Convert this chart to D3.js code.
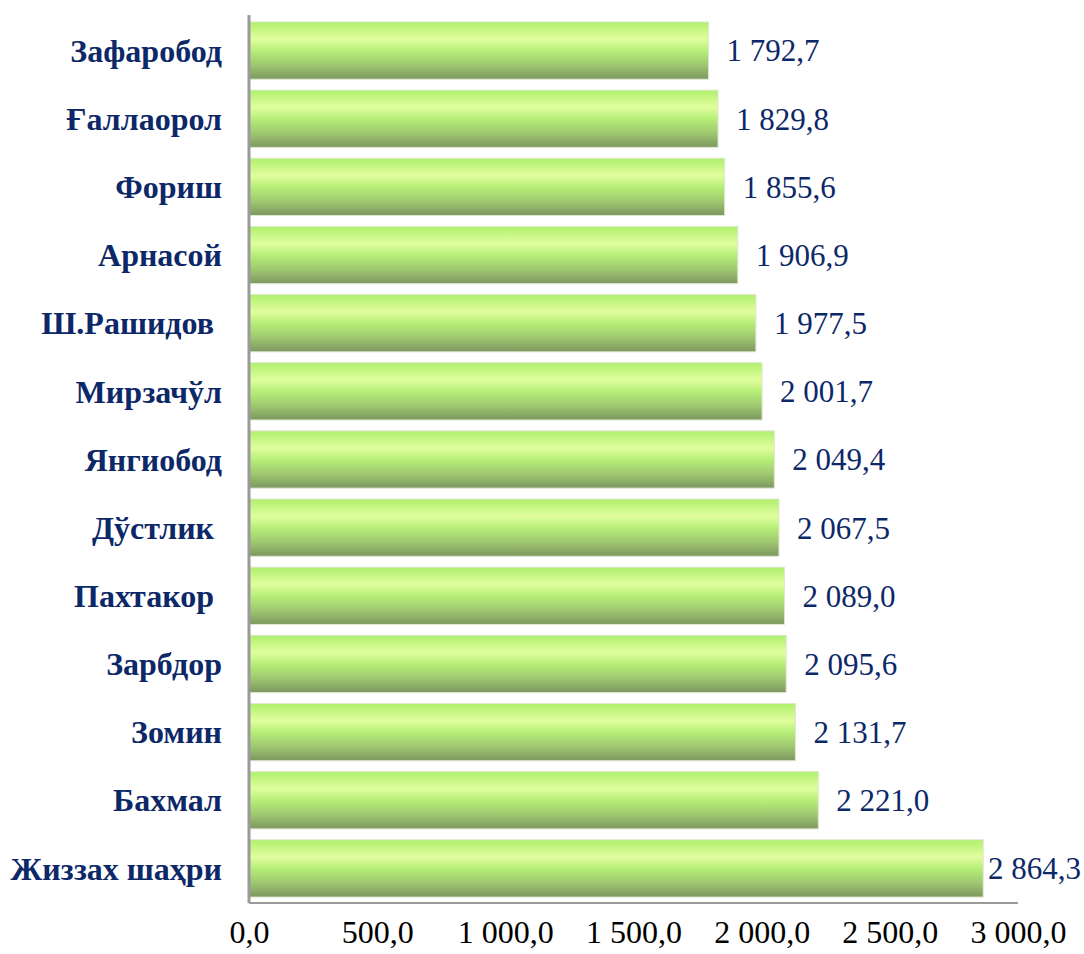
<!DOCTYPE html>
<html><head><meta charset="utf-8">
<script src="https://cdn.jsdelivr.net/npm/d3@7"></script>
<style>body{margin:0;background:#fff}svg{display:block}</style>
</head><body>
<script>
const categories = ["Зафаробод","Ғаллаорол","Фориш","Арнасой","Ш.Рашидов\u00a0","Мирзачўл","Янгиобод","Дўстлик\u00a0","Пахтакор\u00a0","Зарбдор","Зомин","Бахмал","Жиззах шаҳри"];
const values = [1792.7,1829.8,1855.6,1906.9,1977.5,2001.7,2049.4,2067.5,2089.0,2095.6,2131.7,2221.0,2864.3];
const tickValues = [0,500,1000,1500,2000,2500,3000];

const W=1084,H=954;
const svg=d3.select("body").append("svg").attr("width",W).attr("height",H);
const defs=svg.append("defs");
const g=defs.append("linearGradient").attr("id","bg").attr("x1",0).attr("y1",0).attr("x2",0).attr("y2",1);
[[0,"#aef06c"],[0.3,"#e2fd9f"],[0.5,"#b6ef78"],[0.75,"#9fc870"],[1,"#7c9760"]].forEach(s=>g.append("stop").attr("offset",s[0]).attr("stop-color",s[1]));

const fmt=v=>{const s=v.toFixed(1).split(".");return s[0].replace(/\B(?=(\d{3})+(?!\d))/g," ")+","+s[1];};

const x=d3.scaleLinear().domain([0,3000]).range([249,1018]);
const y=d3.scaleBand().domain(categories).range([16.5,902.5]).paddingInner(0.16).paddingOuter(0.08);

svg.selectAll("rect.bar").data(values).join("rect").attr("class","bar")
  .attr("x",x(0)).attr("y",(d,i)=>y(categories[i])).attr("width",d=>x(d)-x(0)).attr("height",y.bandwidth())
  .attr("fill","url(#bg)").attr("stroke","#dfe7cf").attr("stroke-width",1);

// axes
const xa=svg.append("g").attr("transform","translate(0,903)").call(d3.axisBottom(x).tickValues(tickValues).tickSize(0).tickFormat(fmt));
xa.select(".domain").attr("stroke","#9a9a9a").attr("stroke-width",2).attr("d","M249,0H1018");
xa.selectAll("text").attr("font-family","Liberation Serif").attr("font-size",32).attr("fill","#000").attr("dy","1.15em");

const ya=svg.append("g").attr("transform","translate(249,0)").call(d3.axisLeft(y).tickSize(0).tickPadding(27));
ya.select(".domain").attr("stroke","#9a9a9a").attr("stroke-width",3).attr("d","M0,15V903");
ya.selectAll("text").attr("font-family","Liberation Serif").attr("font-weight","bold").attr("font-size",32).attr("fill","#0d2868").attr("dy","0.35em").style("white-space","pre");

svg.selectAll("text.val").data(values).join("text").attr("class","val")
  .attr("y",(d,i)=>y(categories[i])+y.bandwidth()/2).attr("dy","0.35em")
  .attr("font-family","Liberation Serif").attr("font-size",31).attr("fill","#0d2868")
  .text(d=>fmt(d))
  .attr("x",function(d){const w=this.getComputedTextLength();return Math.min(x(d)+18,W-3-w);});
</script>
</body></html>
